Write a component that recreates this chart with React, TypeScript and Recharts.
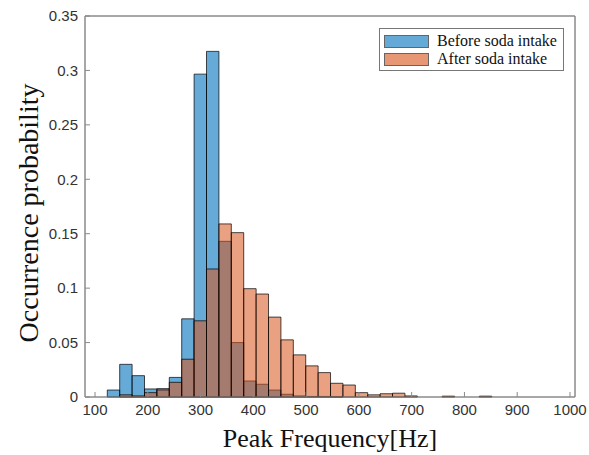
import { BarChart, Bar, XAxis, YAxis, Legend, ReferenceArea } from "recharts";

// histogram bin centres (Hz), bin width ~23.5 Hz
const binCenters = [
  135, 158.5, 182, 205.5, 229, 252.5, 276, 299.5, 323, 346.5, 370, 393.5, 417,
  440.5, 464, 487.5, 511, 534.5, 558, 581.5, 605, 628.5, 652, 675.5, 699, 722.5,
  746, 769.5, 793, 816.5, 840,
];

const beforeSoda = [
  0.0064, 0.03, 0.0196, 0.0074, 0.0077, 0.018, 0.0718, 0.2966, 0.3175, 0.143,
  0.05, 0.0147, 0.0117, 0.0064, 0.0025, 0.001, 0.0005, 0.0005, 0.0003, 0, 0, 0,
  0, 0, 0, 0, 0, 0, 0, 0, 0,
];

const afterSoda = [
  0, 0.002, 0.001, 0.004, 0.0065, 0.0135, 0.0347, 0.07, 0.1176, 0.159, 0.151,
  0.0995, 0.0946, 0.0734, 0.0525, 0.0387, 0.0286, 0.0224, 0.0126, 0.011, 0.004,
  0.002, 0.003, 0.0035, 0.001, 0, 0, 0.0008, 0, 0, 0.0008,
];

const seriesNames = ["Before soda intake", "After soda intake"];
const xTicks = [100, 200, 300, 400, 500, 600, 700, 800, 900, 1000];
const yTicks = [0, 0.05, 0.1, 0.15, 0.2, 0.25, 0.3, 0.35];

const data = binCenters.map((f, i) => ({
  f,
  before: beforeSoda[i],
  after: afterSoda[i],
}));

const X_DOMAIN: [number, number] = [81, 1009.5];
const Y_DOMAIN: [number, number] = [0, 0.35];
const BAR_W = 12.4;
const AXIS_COLOR = "#8a8a8a";
const tickStyle = { fill: "#333", fontSize: 15, fontFamily: "Liberation Sans, Arial, sans-serif" };
const serif = "Liberation Serif, Times New Roman, serif";

function LegendBox({ payload }: any) {
  const items = [...(payload || [])]
    .filter((p: any) => seriesNames.includes(p.value))
    .sort((a: any, b: any) => seriesNames.indexOf(a.value) - seriesNames.indexOf(b.value));
  return (
    <div
      style={{
        border: "1px solid #777",
        background: "#fff",
        width: 179,
        padding: "3px 0 2px 4px",
        fontFamily: serif,
        fontSize: 16,
        lineHeight: "18px",
        color: "#111",
      }}
    >
      {items.map((p: any) => (
        <div key={p.value} style={{ display: "flex", alignItems: "center", height: 18 }}>
          <span
            style={{
              display: "inline-block",
              width: 45,
              height: 13,
              background: p.color,
              opacity: 0.6,
              border: "1px solid #000",
              boxSizing: "border-box",
              marginRight: 8,
            }}
          />
          {p.value}
        </div>
      ))}
    </div>
  );
}

export default function App() {
  return (
    <div style={{ position: "absolute", left: 0, top: 0, background: "#fff" }}>
      <BarChart
        width={589}
        height={455}
        data={data}
        margin={{ top: 15, right: 13, bottom: 0, left: 0 }}
        barSize={BAR_W}
        barGap={-BAR_W}
      >
        <XAxis
          dataKey="f"
          type="number"
          domain={X_DOMAIN}
          ticks={xTicks}
          allowDataOverflow
          height={58}
          stroke={AXIS_COLOR}
          tickSize={-5}
          tickMargin={12}
          tick={tickStyle}
          label={{
            content: () => (
              <text x={330} y={447} textAnchor="middle" fontFamily={serif} fontSize={26} fill="#111">
                Peak Frequency[Hz]
              </text>
            ),
          }}
        />
        <XAxis
          xAxisId="top"
          orientation="top"
          dataKey="f"
          type="number"
          domain={X_DOMAIN}
          ticks={xTicks}
          allowDataOverflow
          height={1}
          stroke={AXIS_COLOR}
          tickSize={-5}
          tick={false}
        />
        <YAxis
          type="number"
          domain={Y_DOMAIN}
          ticks={yTicks}
          width={85}
          stroke={AXIS_COLOR}
          tickSize={-5}
          tickMargin={12}
          tick={tickStyle}
          label={{
            content: () => (
              <text
                x={38}
                y={213}
                transform="rotate(-90 38 213)"
                textAnchor="middle"
                fontFamily={serif}
                fontSize={28}
                fill="#111"
              >
                Occurrence probability
              </text>
            ),
          }}
        />
        <YAxis
          yAxisId="right"
          orientation="right"
          type="number"
          domain={Y_DOMAIN}
          ticks={yTicks}
          width={1}
          stroke={AXIS_COLOR}
          tickSize={-5}
          tick={false}
        />
        <ReferenceArea
          x1={X_DOMAIN[0]}
          x2={X_DOMAIN[1]}
          y1={Y_DOMAIN[0]}
          y2={Y_DOMAIN[1]}
          fill="none"
          fillOpacity={0}
          stroke={AXIS_COLOR}
          strokeWidth={1}
          ifOverflow="visible"
        />
        <Legend
          layout="horizontal"
          verticalAlign="middle"
          content={<LegendBox />}
          wrapperStyle={{ left: 379, top: 28, width: 186 }}
        />
        <Bar
          dataKey="before"
          name={seriesNames[0]}
          fill="#0072BD"
          fillOpacity={0.6}
          stroke="#000"
          strokeOpacity={0.7}
          strokeWidth={1}
          isAnimationActive={false}
        />
        <Bar
          dataKey="after"
          name={seriesNames[1]}
          fill="#D95319"
          fillOpacity={0.55}
          stroke="#000"
          strokeOpacity={0.7}
          strokeWidth={1}
          isAnimationActive={false}
        />
      </BarChart>
    </div>
  );
}
